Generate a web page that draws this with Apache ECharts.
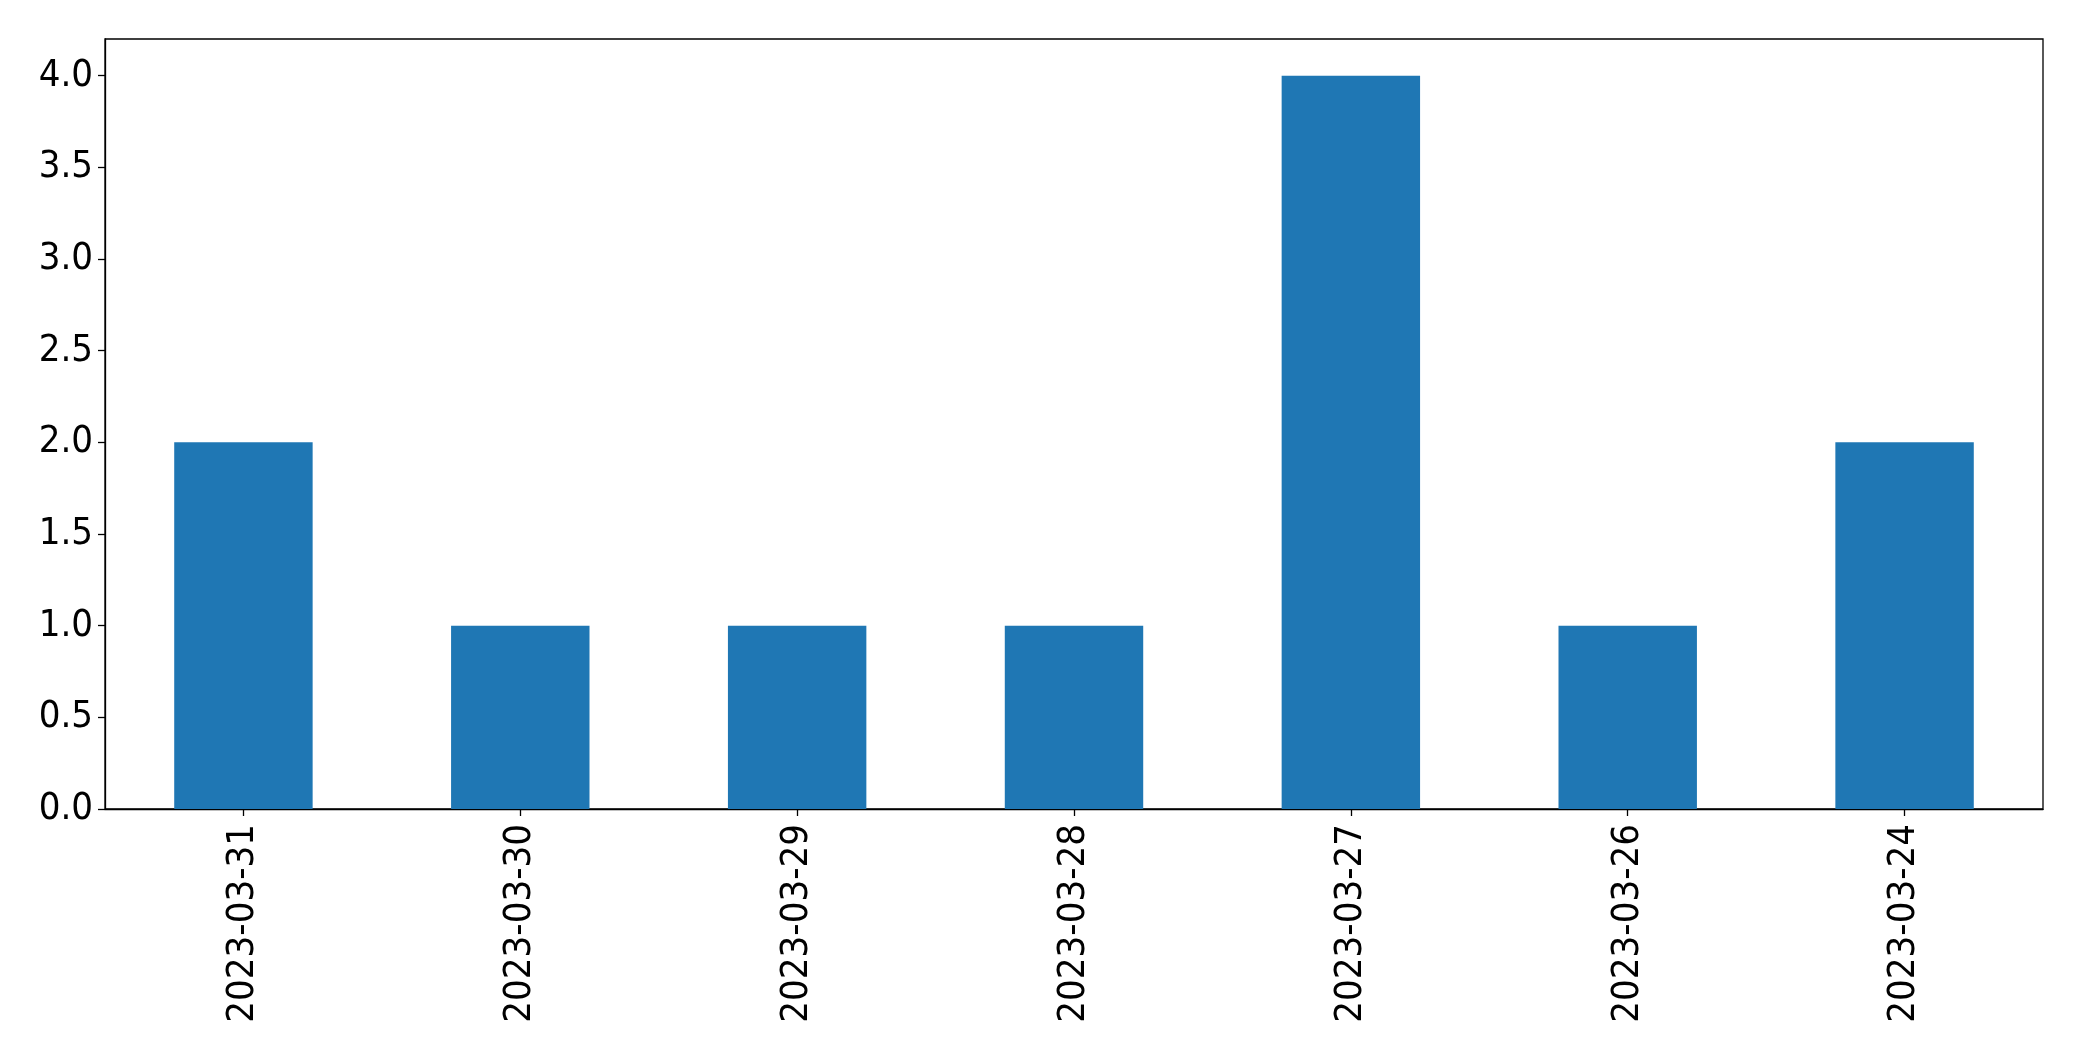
<!DOCTYPE html>
<html>
<head>
<meta charset="utf-8">
<script src="https://cdn.jsdelivr.net/npm/echarts@6/dist/echarts.min.js"></script>
<style>html,body{margin:0;padding:0;background:#fff;}#c{width:2082px;height:1061px;}</style>
</head>
<body>
<div id="c"></div>
<script>
const categories = ["2023-03-31","2023-03-30","2023-03-29","2023-03-28","2023-03-27","2023-03-26","2023-03-24"];
const values = [2, 1, 1, 1, 4, 1, 2];
const yTicks = [0, 0.5, 1, 1.5, 2, 2.5, 3, 3.5, 4];

const chart = echarts.init(document.getElementById('c'));
const font = '"DejaVu Sans Condensed", "DejaVu Sans", sans-serif';
chart.setOption({
  animation: false,
  backgroundColor: '#ffffff',
  grid: {left: 105, right: 39, top: 39, bottom: 252, show: true, borderColor: '#000', borderWidth: 1.3, backgroundColor: 'transparent'},
  xAxis: {
    type: 'category',
    data: categories,
    boundaryGap: true,
    axisLine: {show: true, lineStyle: {color: '#000', width: 1.3}},
    axisTick: {show: true, alignWithLabel: true, length: 7, lineStyle: {color: '#000', width: 1.3}},
    axisLabel: {rotate: 90, fontSize: 38, fontFamily: font, color: '#000', margin: 15, interval: 0},
    splitLine: {show: false}
  },
  yAxis: {
    type: 'value',
    min: 0, max: 4.2,
    axisLine: {show: true, lineStyle: {color: '#000', width: 1.3}},
    axisTick: {show: true, length: 7, lineStyle: {color: '#000', width: 1.3}, customValues: yTicks},
    axisLabel: {
      fontSize: 38, fontFamily: font, color: '#000', margin: 12,
      customValues: yTicks,
      formatter: function (v) { return Number(v).toFixed(1); }
    },
    splitLine: {show: false}
  },
  series: [{
    type: 'bar',
    data: values,
    barWidth: '50%',
    itemStyle: {color: '#1f77b4'}
  }]
});
</script>
</body>
</html>
